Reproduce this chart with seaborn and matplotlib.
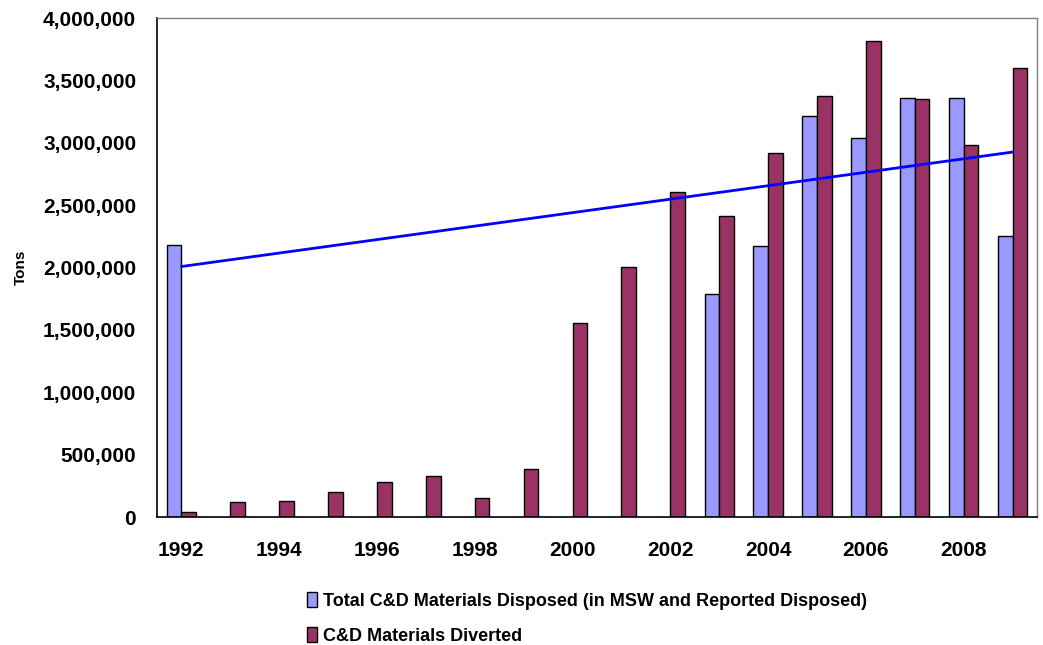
import numpy as np
import pandas as pd
import matplotlib
matplotlib.use("Agg")
import matplotlib.pyplot as plt
import matplotlib.ticker as mticker
import seaborn as sns

years = list(range(1992, 2010))
disposed = [2180000, np.nan, np.nan, np.nan, np.nan, np.nan, np.nan, np.nan, np.nan,
            np.nan, np.nan, 1785000, 2172000, 3212000, 3038000, 3359000, 3359000, 2250000]
diverted = [38000, 118000, 126000, 203000, 280000, 328000, 155000, 385000, 1553000,
            2006000, 2608000, 2415000, 2920000, 3377000, 3816000, 3348000, 2980000, 3602000]
series_names = ["Total C&D Materials Disposed (in MSW and Reported Disposed)",
                "C&D Materials Diverted"]
colors = ["#9999FF", "#993366"]

sns.set_style("white")
plt.rcParams["font.family"] = ["Liberation Sans", "DejaVu Sans"]
plt.rcParams["font.weight"] = "bold"
plt.rcParams["text.color"] = "black"
plt.rcParams["xtick.color"] = "black"
plt.rcParams["ytick.color"] = "black"
plt.rcParams["axes.labelcolor"] = "black"

df = pd.DataFrame({
    "year": [str(y) for y in years] * 2,
    "tons": disposed + diverted,
    "series": [series_names[0]] * len(years) + [series_names[1]] * len(years),
}).dropna()

fig = plt.figure(figsize=(10.43, 6.45), dpi=100)
ax = fig.add_axes([0.1505, 0.1984, 0.8437, 0.7736])

sns.barplot(data=df, x="year", y="tons", hue="series", order=[str(y) for y in years],
            hue_order=series_names, palette=colors, saturation=1, width=0.6,
            edgecolor="black", linewidth=1, ax=ax)

# linear trend of the disposed series (blank years skipped)
idx = np.array([i for i, v in enumerate(disposed) if not np.isnan(v)])
vals = np.array([v for v in disposed if not np.isnan(v)])
sns.regplot(x=idx, y=vals, scatter=False, ci=None, truncate=True,
            line_kws={"color": "#0000FF", "lw": 2}, ax=ax)

ax.set_xlim(-0.5, 17.5)
ax.set_ylim(0, 4000000)
ax.yaxis.set_major_locator(mticker.MultipleLocator(500000))
ax.yaxis.set_major_formatter(mticker.FuncFormatter(lambda v, p: f"{int(v):,}"))
ax.set_xticks(range(0, 18, 2))
ax.set_xticklabels([str(y) for y in years[::2]])
ax.set_xticks(np.arange(-0.5, 18, 1), minor=True)
ax.tick_params(axis="x", which="major", length=0, labelsize=15, pad=17)
ax.tick_params(axis="x", which="minor", length=10, width=1, direction="inout", color="black")
ax.tick_params(axis="y", length=12, width=1, direction="inout", color="black", labelsize=15, pad=9)
for lbl in ax.get_xticklabels() + ax.get_yticklabels():
    lbl.set_fontweight("bold")

ax.set_xlabel("")
ax.set_ylabel("Tons", fontsize=11, fontweight="bold", labelpad=11)

for side in ["left", "bottom"]:
    ax.spines[side].set_color("black")
    ax.spines[side].set_linewidth(1.2)
for side in ["top", "right"]:
    ax.spines[side].set_color("#7f7f7f")
    ax.spines[side].set_linewidth(1)

handles, labels = ax.get_legend_handles_labels()
ax.legend_.remove()
leg = fig.legend(handles, labels, loc="upper left", bbox_to_anchor=(0.294, 0.082),
                 frameon=False, fontsize=13, handlelength=0.55, handleheight=0.9,
                 handletextpad=0.35, labelspacing=0.95, borderpad=0, borderaxespad=0)
for t in leg.get_texts():
    t.set_fontweight("bold")

fig.savefig("out.png", dpi=100)
